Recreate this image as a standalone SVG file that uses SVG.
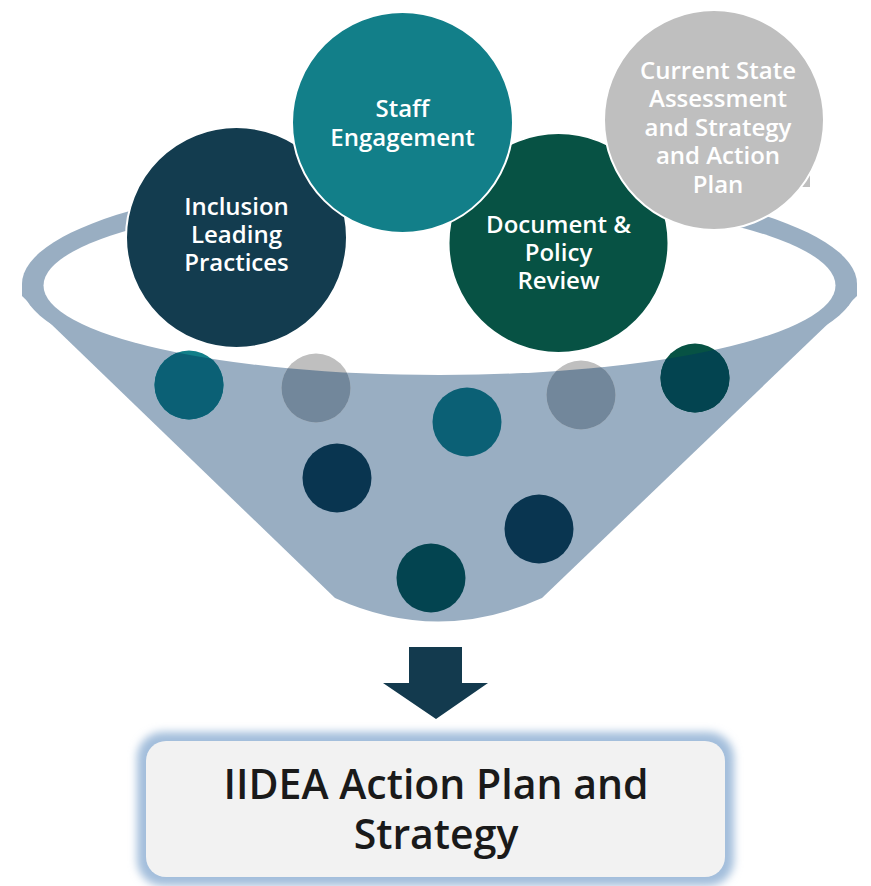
<svg xmlns="http://www.w3.org/2000/svg" width="871" height="886" viewBox="0 0 871 886">
<style>
  .lbl { font-family: "Open Sans", "Noto Sans", "Liberation Sans", sans-serif; font-weight: 600; font-size: 24px; fill: #FFFFFF; text-anchor: middle; }
  .big { stroke: #FFFFFF; stroke-width: 2; }
  .box { font-family: "Open Sans", "Noto Sans", "Liberation Sans", sans-serif; font-weight: 600; font-size: 41px; fill: #1A1A1A; text-anchor: middle; }
</style>
<defs>
  <clipPath id="below">
    <path d="M0,285.5 L43.5,285.5 A396,89.5 0 0 0 835.5,285.5 L871,285.5 L871,700 L0,700 Z"/>
  </clipPath>
  <filter id="glow" x="-10%" y="-20%" width="120%" height="140%">
    <feGaussianBlur stdDeviation="4"/>
  </filter>
</defs>

<g id="funnel">
  <ellipse cx="439.5" cy="284" rx="417.5" ry="109" fill="#99AEC2"/>
  <path d="M22,284 L857,284 L857,296 L542,598 Q438,645 335,598 L22,296 Z" fill="#99AEC2"/>
  <ellipse cx="439.5" cy="285.5" rx="396" ry="89.5" fill="#FFFFFF"/>
</g>

<g id="node-inclusion">
  <circle class="big" cx="236.5" cy="237.5" r="110.5" fill="#133C4F"/>
  <text class="lbl" x="236.5" y="215">Inclusion</text>
  <text class="lbl" x="236.5" y="243">Leading</text>
  <text class="lbl" x="236.5" y="271">Practices</text>
</g>

<g id="node-document">
  <circle class="big" cx="558.5" cy="243" r="110" fill="#075244"/>
  <text class="lbl" x="558.5" y="233">Document &amp;</text>
  <text class="lbl" x="558.5" y="261">Policy</text>
  <text class="lbl" x="558.5" y="289">Review</text>
</g>

<g id="node-staff">
  <circle class="big" cx="402.5" cy="122.5" r="110.5" fill="#127F89"/>
  <text class="lbl" x="402.5" y="117">Staff</text>
  <text class="lbl" x="402.5" y="146">Engagement</text>
</g>

<g id="node-current">
  <rect x="802" y="174" width="8" height="13" fill="#BFBFBF"/>
  <circle class="big" cx="714" cy="120" r="110" fill="#BFBFBF"/>
  <text class="lbl" x="718" y="79">Current State</text>
  <text class="lbl" x="718" y="107">Assessment</text>
  <text class="lbl" x="718" y="136">and Strategy</text>
  <text class="lbl" x="718" y="164">and Action</text>
  <text class="lbl" x="718" y="193">Plan</text>
</g>

<g id="particles">
  <circle cx="189" cy="385" r="34.5" fill="#127F89"/>
  <circle cx="189" cy="385" r="34.5" fill="#0B6075" clip-path="url(#below)"/>
  <circle cx="316" cy="388" r="34.5" fill="#BFBFBF"/>
  <circle cx="316" cy="388" r="34.5" fill="#72879B" clip-path="url(#below)"/>
  <circle cx="467" cy="422" r="34.5" fill="#0B6075"/>
  <circle cx="581" cy="395" r="34.5" fill="#BFBFBF"/>
  <circle cx="581" cy="395" r="34.5" fill="#72879B" clip-path="url(#below)"/>
  <circle cx="695" cy="378" r="34.5" fill="#075244"/>
  <circle cx="695" cy="378" r="34.5" fill="#034450" clip-path="url(#below)"/>
  <circle cx="337" cy="478" r="34.5" fill="#093550"/>
  <circle cx="539" cy="529" r="34.5" fill="#093550"/>
  <circle cx="431" cy="578" r="34.5" fill="#034450"/>
</g>

<g id="connectors">
  <path d="M409,647 L462,647 L462,683 L488,683 L436,719 L383,683 L409,683 Z" fill="#133A4E"/>
</g>

<g id="node-result">
  <rect x="137" y="732" width="597" height="154" rx="26" fill="#A3BEDB" filter="url(#glow)"/>
  <rect x="146" y="741" width="579" height="136" rx="20" fill="#F2F2F2"/>
  <text class="box" x="436" y="799">IIDEA Action Plan and</text>
  <text class="box" x="436" y="849">Strategy</text>
</g>
</svg>
